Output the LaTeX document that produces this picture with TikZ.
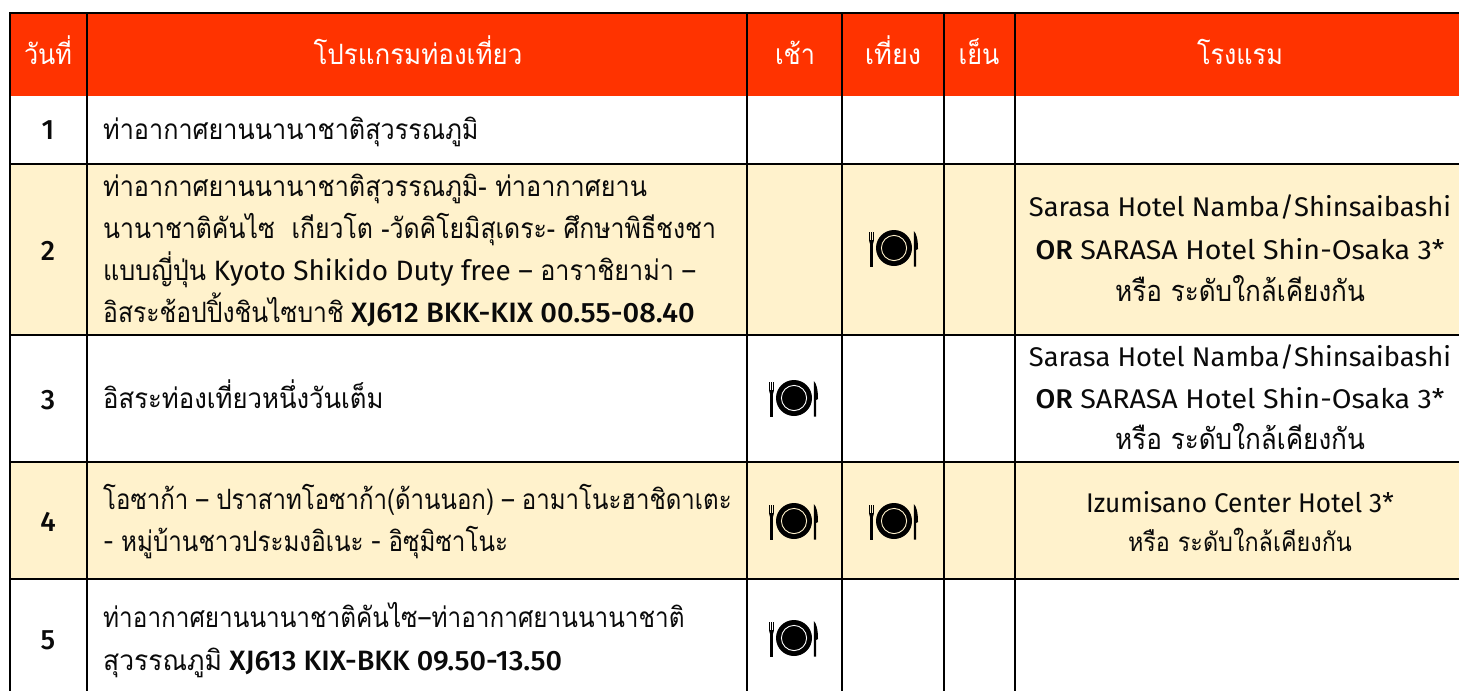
\documentclass[tikz,border=0pt]{standalone}
\usepackage{fontspec}
\setmainfont{Fira Sans}
\newfontfamily\medf{Fira Sans Medium}
\newfontfamily\thf[Script=Thai,FakeStretch=0.9]{Loma}
\newcommand{\T}[1]{{\thf #1}}
\newcommand{\M}[1]{{\medf #1}}
\newcommand{\SX}[2]{\scalebox{#1}[1]{#2}}
\definecolor{headred}{HTML}{FF3300}
\definecolor{cream}{HTML}{FFF2CC}
\definecolor{ink}{HTML}{0A0A0A}
\tikzset{
  x=1pt,y=-1pt,
  rule/.style={line width=2pt,draw=black},
  head/.style={anchor=base,inner sep=0pt,text=white,font=\fontsize{28}{28}\selectfont},
  daynum/.style={anchor=base,inner sep=0pt,text=ink,font=\fontsize{28}{28}\selectfont\medf},
  prog/.style={anchor=base west,inner sep=0pt,text=ink,font=\fontsize{28}{28}\selectfont},
  hotel/.style={anchor=base,inner sep=0pt,text=ink,font=\fontsize{27}{27}\selectfont},
  hotelthai/.style={anchor=base,inner sep=0pt,text=ink,font=\fontsize{29}{29}\selectfont},
  hotelsmall/.style={anchor=base,inner sep=0pt,text=ink,font=\fontsize{26}{26}\selectfont},
  pics/meal/.style={code={
    \fill[black] (0,0) circle[radius=18];
    \draw[#1,line width=0.9pt] (0,0) circle[radius=12.6];
    % fork
    \fill[black] (-25.2,-16.5) rectangle (-24.1,-7);
    \fill[black] (-23.2,-16.5) rectangle (-21.9,-7);
    \fill[black] (-21,-16.5) rectangle (-19.9,-7);
    \fill[black] (-25.2,-8) .. controls (-25.2,-2) and (-19.9,-2) .. (-19.9,-8) -- cycle;
    \fill[black] (-23.6,-5) rectangle (-21.5,18.5);
    % knife
    \fill[black] (19.8,18.5) -- (19.8,-17) .. controls (22.5,-15) and (24,-8) .. (24,1) -- (22.2,2) -- (22.2,18.5) -- cycle;
  }}
}
\begin{document}
\begin{tikzpicture}
\useasboundingbox (0,0) rectangle (1459,691);
% bands
\fill[headred] (10,13) rectangle (1459,96);
\fill[cream] (10,164) rectangle (1459,335);
\fill[cream] (10,462) rectangle (1459,579);
% grid
\foreach \yy in {13,164,335,462,579} \draw[rule] (9,\yy) -- (1459,\yy);
\foreach \xx in {10,87,747,842,944,1015} \draw[rule] (\xx,13) -- (\xx,691);
% header
\node[head] (h1) at (48,64) {\T{วันที่}};
\node[head] (h2) at (418,64) {\SX{1.03}{\T{โปรแกรมท่องเที่ยว}}};
\node[head] (h3) at (795,64) {\T{เช้า}};
\node[head] (h4) at (893,64) {\SX{1.08}{\T{เที่ยง}}};
\node[head] (h5) at (979,64) {\T{เย็น}};
\node[head] (h6) at (1240,64) {\T{โรงแรม}};
% day numbers
\node[daynum] (d1) at (48,139) {1};
\node[daynum] (d2) at (48,260) {2};
\node[daynum] (d3) at (48,409) {3};
\node[daynum] (d4) at (48,531) {4};
\node[daynum] (d5) at (48,649) {5};
% programme
\node[prog] (p1) at (103,139) {\T{ท่าอากาศยานนานาชาติสุวรรณภูมิ}};
\node[prog] (p2a) at (103,196) {\T{ท่าอากาศยานนานาชาติสุวรรณภูมิ- ท่าอากาศยาน}};
\node[prog] (p2b) at (103,238) {\SX{0.985}{\T{นานาชาติคันไซ\ \ เกียวโต -วัดคิโยมิสุเดระ- ศึกษาพิธีชงชา}}};
\node[prog] (p2c) at (103,280) {\T{แบบญี่ปุ่น} Kyoto Shikido Duty free – \T{อาราชิยาม่า} –};
\node[prog] (p2d) at (103,322) {\SX{0.98}{\T{อิสระช้อปปิ้งชินไซบาชิ}} \SX{1.04}{\M{XJ612 BKK-KIX 00.55-08.40}}};
\node[prog] (p3) at (103,408) {\SX{1.02}{\T{อิสระท่องเที่ยวหนึ่งวันเต็ม}}};
\node[prog] (p4a) at (103,509) {\SX{0.953}{\T{โอซาก้า} – \T{ปราสาทโอซาก้า(ด้านนอก)} – \T{อามาโนะฮาชิดาเตะ}}};
\node[prog] (p4b) at (103,551) {\SX{0.96}{- \T{หมู่บ้านชาวประมงอิเนะ} - \T{อิซุมิซาโนะ}}};
\node[prog] (p5a) at (103,627) {\SX{0.965}{\T{ท่าอากาศยานนานาชาติคันไซ}–\T{ท่าอากาศยานนานาชาติ}}};
\node[prog] (p5b) at (103,670) {\SX{1.05}{\T{สุวรรณภูมิ}} \SX{1.03}{\M{XJ613 KIX-BKK 09.50-13.50}}};
% hotels
\node[hotel] (o2a) at (1240,216) {\SX{1.014}{Sarasa Hotel Namba/Shinsaibashi}};
\node[hotel] (o2b) at (1240,259) {\SX{1.06}{\M{OR} SARASA Hotel Shin-Osaka 3*}};
\node[hotelthai] (o2c) at (1240,301) {\T{หรือ ระดับใกล้เคียงกัน}};
\node[hotel] (o3a) at (1240,366) {\SX{1.014}{Sarasa Hotel Namba/Shinsaibashi}};
\node[hotel] (o3b) at (1240,408) {\SX{1.06}{\M{OR} SARASA Hotel Shin-Osaka 3*}};
\node[hotelthai] (o3c) at (1240,449) {\T{หรือ ระดับใกล้เคียงกัน}};
\node[hotel] (o4a) at (1240,512) {\SX{0.97}{Izumisano Center Hotel 3*}};
\node[hotelsmall] (o4b) at (1240,551) {\T{หรือ ระดับใกล้เคียงกัน}};
% meals
\pic at (894,248) {meal=cream};
\pic at (794,398) {meal=white};
\pic at (794,521) {meal=cream};
\pic at (894,521) {meal=cream};
\pic at (794,638) {meal=white};
\end{tikzpicture}
\end{document}
